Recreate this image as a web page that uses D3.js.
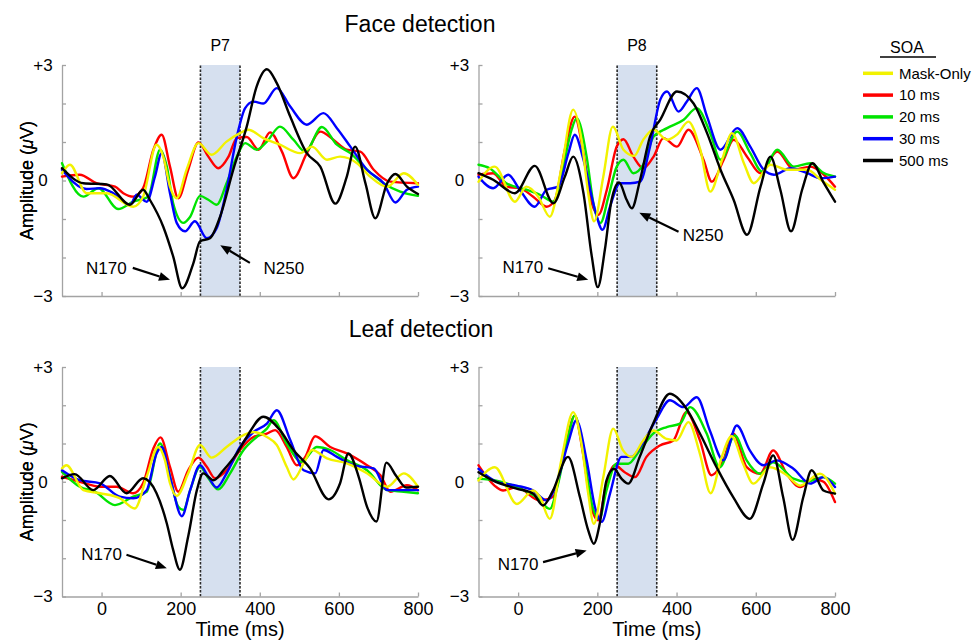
<!DOCTYPE html>
<html lang="en">
<head>
  <meta charset="UTF-8">
  <title>ERP waveforms - face and leaf detection</title>
  <script src="https://cdn.jsdelivr.net/npm/d3@7"></script>
  <style>
    body { margin: 0; background: #fff; }
    svg text { font-family: "Liberation Sans", Arial, Helvetica, sans-serif; fill: #000; }
    .axis path, .axis line { stroke: #a3a3a3; stroke-width: 1.3px; }
    .trace { fill: none; stroke-width: 2.4px; stroke-linejoin: round; stroke-linecap: round; }
  </style>
</head>
<body>
<svg id="chart" width="977" height="644"></svg>
<script>
  var soaNames = ["Mask-Only", "10 ms", "20 ms", "30 ms", "500 ms"];
  var soaColors = ["#f2f200", "#ff0000", "#00e400", "#0000ff", "#000000"];
  var drawOrder = [1, 2, 3, 0, 4];

  var timeDomain = [-100, 800];
  var ampDomain = [-3, 3];
  var timeTicks = [0, 200, 400, 600, 800];
  var ampTicks = [-3, -2, -1, 0, 1, 2, 3];
  var bandMs = [250, 350];

  // [time ms, amplitude uV]
  var faceP7Mask = [[-100,0.19],[-80,0.41],[-38,-0.33],[13,-0.33],[80,-0.68],[105,-0.42],[139,0.93],[156,0.62],[173,-0.16],[190,-0.46],[215,0.28],[245,0.97],[278,0.67],[316,1.01],[350,1.23],[371,1.32],[409,1.1],[451,0.93],[502,0.71],[532,0.88],[570,0.54],[603,0.62],[646,0.45],[679,0.1],[722,-0.16],[764,0.19],[800,-0.11]];
  var faceP7Ms10 = [[-100,0.1],[-55,0.15],[-13,-0.07],[34,-0.16],[55,-0.33],[80,-0.42],[105,-0.2],[131,0.8],[152,1.19],[173,0.36],[194,-0.46],[219,0.28],[245,0.99],[270,0.62],[295,0.32],[321,0.62],[342,1.1],[367,1.13],[397,0.8],[426,1.25],[456,0.75],[485,0.06],[519,0.71],[553,1.27],[586,1.06],[620,0.8],[654,0.75],[688,0.28],[730,-0.03],[800,-0.07]];
  var faceP7Ms20 = [[-100,0.45],[-46,-0.42],[-8,-0.2],[42,-0.74],[80,-0.55],[118,-0.42],[148,0.8],[165,0.36],[181,-0.59],[207,-1.1],[224,-0.94],[249,-0.4],[270,-0.5],[291,-0.63],[316,-0.07],[342,0.62],[363,0.97],[392,0.8],[418,1.01],[451,1.4],[485,1.06],[515,0.75],[557,1.39],[595,0.93],[629,0.71],[671,0.28],[713,-0.07],[755,-0.29],[800,-0.4]];
  var faceP7Ms30 = [[-100,0.28],[-38,-0.22],[-4,-0.2],[30,-0.33],[72,-0.63],[89,-0.37],[114,-0.55],[135,0.1],[152,0.71],[173,-0.33],[190,-1.1],[211,-1.32],[236,-1.06],[266,-1.5],[291,-1.24],[316,-0.24],[342,1.14],[363,1.88],[384,2.05],[409,2.0],[443,2.4],[477,1.92],[519,1.45],[561,1.75],[595,1.36],[629,0.88],[671,0.28],[713,-0.07],[743,-0.57],[772,-0.24],[800,-0.16]];
  var faceP7Ms500 = [[-100,0.32],[-46,-0.07],[13,-0.1],[72,-0.63],[105,-0.24],[122,-0.5],[156,-1.2],[181,-1.97],[204,-2.8],[232,-2.15],[249,-1.58],[274,-1.5],[300,-0.93],[333,0.28],[367,1.4],[392,2.44],[418,2.89],[443,2.53],[477,1.66],[519,0.71],[553,0.36],[591,-0.6],[620,0.1],[641,0.88],[667,-0.07],[692,-0.98],[722,-0.07],[743,0.17],[772,-0.16],[800,-0.35]];

  var faceP8Mask = [[-100,-0.03],[-59,0.36],[-8,-0.55],[21,-0.16],[51,-0.42],[80,-0.94],[110,0.36],[139,1.84],[160,1.06],[177,-0.33],[192,-1.06],[215,0.1],[239,1.4],[266,0.8],[293,0.64],[316,1.06],[342,1.32],[376,1.06],[401,1.19],[430,1.53],[460,0.8],[485,-0.29],[515,0.54],[540,1.23],[570,0.45],[595,-0.07],[637,0.41],[679,0.28],[730,0.28],[764,0.02],[800,-0.24]];
  var faceP8Ms10 = [[-100,0.15],[-63,0.19],[-30,-0.16],[4,-0.2],[38,-0.42],[72,-0.68],[93,-0.5],[118,0.8],[143,1.66],[165,0.71],[186,-0.59],[203,-0.89],[224,-0.24],[249,0.88],[266,1.07],[291,0.62],[316,0.32],[342,0.62],[367,1.1],[401,0.88],[430,1.32],[468,0.54],[489,-0.03],[519,0.54],[544,1.06],[578,0.62],[612,0.19],[654,0.75],[696,0.28],[738,0.36],[772,0.15],[800,-0.16]];
  var faceP8Ms20 = [[-100,0.41],[-72,0.32],[-30,-0.07],[21,-0.24],[55,-0.37],[89,-0.55],[114,0.36],[135,1.32],[148,1.62],[173,0.62],[190,-0.59],[208,-1.1],[228,-0.42],[249,0.36],[266,0.54],[291,0.19],[316,0.41],[342,1.14],[376,1.36],[418,1.58],[451,1.88],[485,1.23],[511,0.54],[553,1.27],[586,0.71],[616,0.23],[654,0.8],[696,0.36],[738,0.45],[772,0.19],[800,0.1]];
  var faceP8Ms30 = [[-100,0.1],[-63,-0.2],[-25,0.15],[4,-0.24],[42,-0.68],[72,-0.24],[101,-0.16],[127,0.71],[143,1.19],[165,0.54],[194,-0.76],[213,-1.28],[232,-0.68],[257,-0.07],[283,-0.07],[308,-0.03],[333,0.88],[359,2.1],[376,2.31],[405,1.79],[426,2.05],[451,2.4],[477,1.66],[511,0.8],[553,1.36],[586,0.88],[620,0.28],[646,0.15],[688,0.32],[730,0.19],[764,0.06],[800,0.1]];
  var faceP8Ms500 = [[-100,0.19],[-63,0.02],[-8,-0.33],[42,0.38],[89,-0.59],[118,0.1],[139,0.62],[165,-0.33],[186,-1.97],[201,-2.77],[219,-1.8],[236,-0.5],[255,-0.05],[274,-0.5],[287,-0.72],[308,0.02],[333,1.14],[359,1.58],[401,2.31],[443,2.0],[477,1.23],[511,0.28],[544,-0.5],[578,-1.41],[612,-0.16],[637,0.62],[662,-0.24],[689,-1.32],[717,-0.24],[743,0.45],[772,-0.07],[800,-0.55]];

  var leafP7Mask = [[-100,0.35],[-89,0.43],[-46,-0.22],[-4,-0.3],[46,-0.43],[84,-0.7],[114,0.13],[143,0.91],[160,0.57],[173,-0.04],[190,-0.37],[219,0.22],[249,0.96],[278,0.63],[316,0.91],[359,1.22],[384,1.3],[418,1.17],[443,0.96],[468,0.39],[485,0.06],[511,0.48],[532,0.83],[570,0.61],[620,0.48],[671,0.22],[722,-0.13],[764,0.22],[800,-0.13]];
  var leafP7Ms10 = [[-100,0.13],[-55,0],[-4,-0.13],[38,-0.13],[80,-0.3],[105,-0.04],[131,0.87],[149,1.16],[173,0.39],[194,-0.26],[219,0.3],[245,0.63],[266,0.39],[287,0.09],[316,0.3],[350,0.83],[384,1.17],[418,1.26],[439,1.35],[468,0.91],[494,0.43],[515,0.65],[540,1.19],[578,0.91],[620,0.74],[671,0.43],[705,0.17],[730,-0.26],[772,-0.09],[800,-0.22]];
  var leafP7Ms20 = [[-100,0.26],[-55,-0.13],[-17,-0.26],[34,-0.61],[80,-0.39],[114,-0.26],[148,1.0],[169,0.3],[194,-0.65],[207,-0.74],[224,-0.22],[249,0.39],[270,0.09],[295,-0.2],[325,0.22],[359,0.83],[392,1.17],[418,1.39],[435,1.61],[468,1.0],[506,0.52],[544,0.91],[578,0.83],[620,0.57],[671,0.3],[722,-0.22],[764,-0.26],[800,-0.3]];
  var leafP7Ms30 = [[-100,0.3],[-55,0.04],[-4,-0.04],[46,-0.39],[80,-0.43],[114,-0.22],[139,0.74],[152,0.91],[173,0.13],[203,-0.9],[224,-0.22],[249,0.43],[270,0.13],[291,-0.15],[316,0.22],[350,0.91],[384,1.3],[418,1.52],[443,1.87],[477,1.09],[511,0.3],[540,0.22],[561,0.83],[595,0.65],[637,0.43],[688,0.35],[722,-0.22],[755,-0.22],[800,-0.22]];
  var leafP7Ms500 = [[-100,0.09],[-68,0.2],[-21,-0.22],[21,0.15],[63,-0.3],[105,0.09],[139,-0.3],[165,-1.09],[181,-1.78],[198,-2.3],[219,-1.43],[241,-0.22],[257,0.22],[283,0.04],[308,0.3],[342,0.74],[367,1.17],[409,1.7],[451,1.35],[485,0.83],[527,0.35],[574,-0.46],[603,-0.04],[624,0.74],[650,0.13],[671,-0.65],[695,-1.04],[720,0.5],[745,0.15],[770,-0.15],[800,-0.13]];

  var leafP8Mask = [[-100,0.03],[-59,0.38],[-3,-0.58],[38,-0.23],[55,-0.4],[80,-0.97],[109,0.56],[139,1.82],[160,1.0],[177,-0.31],[191,-1.1],[215,0.12],[240,1.39],[265,0.82],[286,0.65],[316,1.08],[341,1.34],[375,1.12],[400,1.08],[430,1.56],[459,0.73],[486,-0.3],[514,0.65],[539,1.19],[568,0.47],[594,-0.05],[636,0.38],[678,0.17],[712,-0.1],[762,0.21],[800,-0.31]];
  var leafP8Ms10 = [[-100,0.43],[-55,-0.14],[-38,-0.23],[-4,-0.14],[55,-0.49],[88,-0.4],[118,0.82],[143,1.73],[164,0.73],[185,-0.66],[202,-1.01],[223,-0.05],[244,0.43],[269,0.25],[295,0.12],[324,0.65],[358,0.95],[392,1.08],[425,1.82],[459,1.08],[488,0.17],[518,0.56],[543,1.26],[577,0.38],[611,0.21],[644,0.82],[678,0.21],[712,-0.14],[745,0.08],[771,0],[800,-0.53]];
  var leafP8Ms20 = [[-100,0.08],[-55,0.03],[-4,-0.14],[46,-0.4],[80,-0.71],[101,-0.05],[126,1.17],[143,1.73],[168,0.56],[188,-0.66],[205,-0.97],[223,-0.23],[248,0.47],[278,0.47],[307,0.82],[341,1.26],[375,1.43],[409,1.52],[434,1.95],[476,1.26],[509,0.38],[547,1.21],[577,0.56],[611,0.21],[644,0.51],[695,0.08],[729,0],[771,0.12],[800,-0.05]];
  var leafP8Ms30 = [[-100,0.34],[-55,0],[-4,-0.1],[38,-0.23],[72,-0.49],[97,-0.05],[126,1.0],[147,1.6],[173,0.56],[194,-0.66],[211,-1.05],[232,-0.31],[261,0.65],[286,0.65],[316,1.04],[350,1.65],[383,2.13],[417,1.95],[451,2.21],[484,1.34],[518,0.56],[552,1.47],[585,0.82],[619,0.43],[653,0.56],[695,0.34],[737,-0.05],[771,0.12],[800,-0.14]];
  var leafP8Ms500 = [[-100,0.25],[-63,0.03],[-4,-0.18],[38,-0.31],[63,-0.62],[88,-0.23],[126,0.65],[156,-0.4],[177,-1.27],[191,-1.62],[206,-1.1],[223,0.03],[242,0.34],[261,0.08],[278,-0.05],[307,0.65],[341,1.52],[383,2.3],[425,1.91],[459,1.26],[501,0.38],[543,-0.4],[585,-0.97],[619,-0.05],[644,0.69],[669,-0.4],[693,-1.52],[720,-0.4],[741,0.3],[771,-0.23],[800,-0.31]];

  // label position + arrow tail/head, in data units
  var faceP7Notes = [
    {label: "N170", tx: 12, ty: -2.27, x1: 79, y1: -2.27, x2: 173, y2: -2.58},
    {label: "N250", tx: 461, ty: -2.27, x1: 375, y1: -2.14, x2: 300, y2: -1.68}
  ];
  var faceP8Notes = [
    {label: "N170", tx: 12, ty: -2.24, x1: 76, y1: -2.28, x2: 177, y2: -2.58},
    {label: "N250", tx: 467, ty: -1.42, x1: 405, y1: -1.33, x2: 306, y2: -0.84}
  ];
  var leafP7Notes = [
    {label: "N170", tx: 0, ty: -1.89, x1: 63, y1: -1.91, x2: 165, y2: -2.26}
  ];
  var leafP8Notes = [
    {label: "N170", tx: 0, ty: -2.15, x1: 63, y1: -2.1, x2: 173, y2: -1.8}
  ];

  var panels = [
    {site: "P7", left: 62, right: 418, top: 65, bottom: 296, timeLabels: false,
     traces: [faceP7Mask, faceP7Ms10, faceP7Ms20, faceP7Ms30, faceP7Ms500], notes: faceP7Notes},
    {site: "P8", left: 478.5, right: 835, top: 65, bottom: 296, timeLabels: false,
     traces: [faceP8Mask, faceP8Ms10, faceP8Ms20, faceP8Ms30, faceP8Ms500], notes: faceP8Notes},
    {site: null, left: 62, right: 418, top: 367, bottom: 596.5, timeLabels: true,
     traces: [leafP7Mask, leafP7Ms10, leafP7Ms20, leafP7Ms30, leafP7Ms500], notes: leafP7Notes},
    {site: null, left: 478.5, right: 835, top: 367, bottom: 596.5, timeLabels: true,
     traces: [leafP8Mask, leafP8Ms10, leafP8Ms20, leafP8Ms30, leafP8Ms500], notes: leafP8Notes}
  ];

  var svg = d3.select("#chart");

  svg.append("text").attr("x", 420).attr("y", 32).attr("text-anchor", "middle")
      .style("font-size", "23px").text("Face detection");
  svg.append("text").attr("x", 421).attr("y", 337).attr("text-anchor", "middle")
      .style("font-size", "23px").text("Leaf detection");

  panels.forEach(function(p) {
      var x = d3.scaleLinear().domain(timeDomain).range([p.left, p.right]);
      var y = d3.scaleLinear().domain(ampDomain).range([p.bottom, p.top]);
      var g = svg.append("g");

      // analysis window
      g.append("rect")
          .attr("x", x(bandMs[0])).attr("y", y(ampDomain[1]))
          .attr("width", x(bandMs[1]) - x(bandMs[0]))
          .attr("height", y(ampDomain[0]) - y(ampDomain[1]))
          .attr("fill", "#d6e0ef");
      bandMs.forEach(function(t) {
          g.append("line")
              .attr("x1", x(t)).attr("x2", x(t))
              .attr("y1", y(ampDomain[0])).attr("y2", y(ampDomain[1]))
              .attr("stroke", "#2a2a2a").attr("stroke-width", 1.6)
              .attr("stroke-dasharray", "2.5,1.5");
      });

      var yAxis = g.append("g").attr("class", "axis")
          .attr("transform", "translate(" + p.left + ",0)")
          .call(d3.axisLeft(y).tickValues(ampTicks).tickSize(-4).tickSizeOuter(0)
              .tickFormat(function(d) { return d === 3 ? "+3" : d === -3 ? "\u22123" : d === 0 ? "0" : ""; }));
      yAxis.selectAll("text")
          .attr("x", -19).attr("text-anchor", "middle")
          .style("font-size", "17px").style("font-family", null);

      var xAxis = g.append("g").attr("class", "axis")
          .attr("transform", "translate(0," + p.bottom + ")")
          .call(d3.axisBottom(x).tickValues(timeTicks).tickSize(-4).tickSizeOuter(0).tickPadding(6)
              .tickFormat(p.timeLabels ? d3.format("d") : function() { return ""; }));
      xAxis.selectAll("text").style("font-size", "18px").style("font-family", null);

      var ylab = g.append("text")
          .attr("transform", "translate(33," + ((p.top + p.bottom) / 2) + ") rotate(-90)")
          .attr("text-anchor", "middle")
          .style("font-size", "18px");
      ylab.append("tspan").text("Amplitude (");
      ylab.append("tspan").style("font-style", "italic").text("\u03bc");
      ylab.append("tspan").text("V)");

      if (p.timeLabels) {
          g.append("text").attr("x", (p.left + p.right) / 2).attr("y", 636)
              .attr("text-anchor", "middle").style("font-size", "20px").text("Time (ms)");
      }
      if (p.site) {
          g.append("text").attr("x", x((bandMs[0] + bandMs[1]) / 2)).attr("y", 51)
              .attr("text-anchor", "middle").style("font-size", "16px").text(p.site);
      }

      var line = d3.line()
          .x(function(d) { return x(d[0]); })
          .y(function(d) { return y(d[1]); })
          .curve(d3.curveMonotoneX);

      drawOrder.forEach(function(i) {
          g.append("path").attr("class", "trace")
              .attr("d", line(p.traces[i]))
              .attr("stroke", soaColors[i]);
      });

      p.notes.forEach(function(n) {
          var x1 = x(n.x1), y1 = y(n.y1), x2 = x(n.x2), y2 = y(n.y2);
          var a = Math.atan2(y2 - y1, x2 - x1), head = 11, hw = 4.5;
          var bx = x2 - head * Math.cos(a), by = y2 - head * Math.sin(a);
          g.append("line").attr("x1", x1).attr("y1", y1).attr("x2", bx).attr("y2", by)
              .attr("stroke", "#000").attr("stroke-width", 2.2);
          g.append("polygon")
              .attr("points", [[x2, y2],
                  [bx + hw * Math.sin(a), by - hw * Math.cos(a)],
                  [bx - hw * Math.sin(a), by + hw * Math.cos(a)]].map(function(q) { return q.join(","); }).join(" "))
              .attr("fill", "#000");
          g.append("text").attr("x", x(n.tx)).attr("y", y(n.ty)).attr("dy", "0.35em")
              .attr("text-anchor", "middle").style("font-size", "17px").text(n.label);
      });
  });

  // legend
  var legend = svg.append("g");
  legend.append("text").attr("x", 907).attr("y", 53).attr("text-anchor", "middle")
      .style("font-size", "16px").text("SOA");
  legend.append("line").attr("x1", 880).attr("x2", 936).attr("y1", 57).attr("y2", 57)
      .attr("stroke", "#000").attr("stroke-width", 1.5);
  soaNames.forEach(function(name, i) {
      var yy = 73.3 + i * 21.8;
      legend.append("line").attr("x1", 863).attr("x2", 893).attr("y1", yy).attr("y2", yy)
          .attr("stroke", soaColors[i]).attr("stroke-width", 3.5);
      legend.append("text").attr("x", 899).attr("y", yy).attr("dy", "0.35em")
          .style("font-size", "15px").text(name);
  });
</script>
</body>
</html>
